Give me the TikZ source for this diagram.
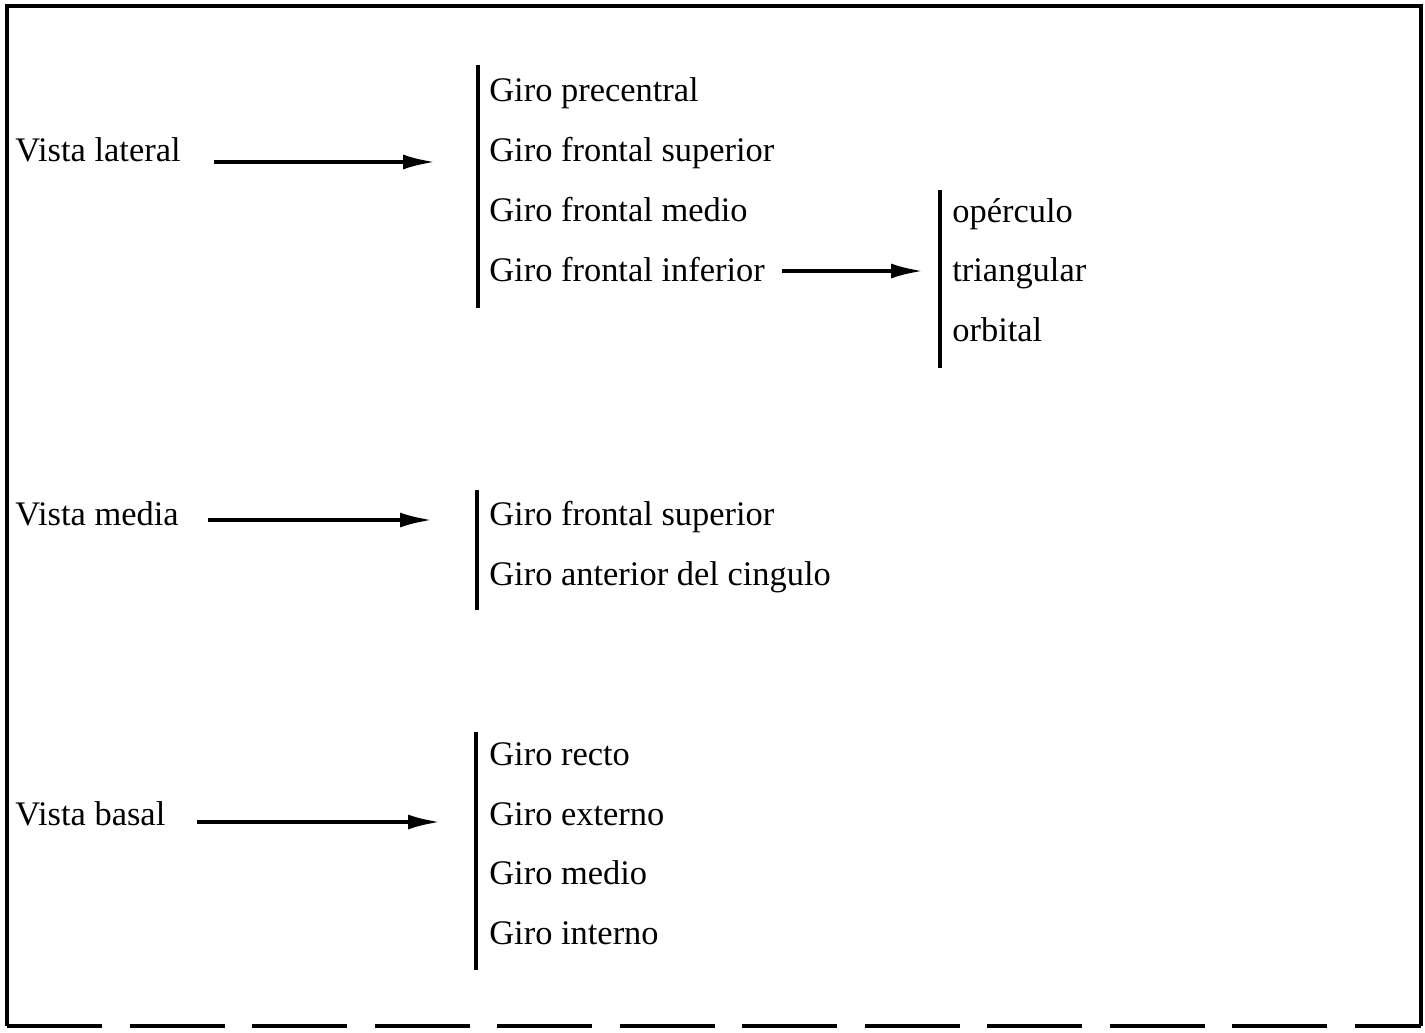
\documentclass[tikz,border=0pt]{standalone}
\usepackage{fontspec}
\setmainfont{Liberation Serif}
\usetikzlibrary{arrows.meta}

\tikzset{
	txt/.style={anchor=base west, inner sep=0pt, font=\fontsize{19.6}{23}\selectfont},
	arr/.style={line width=2pt, -{Latex[length=0.64cm,width=0.3cm]}},
	bar/.style={line width=2pt}
}

\begin{document}
\begin{tikzpicture}
	\useasboundingbox (0,0) rectangle (28.5,-20.64);
	% frame
	\draw[line width=2.2pt] (0.14,-20.52) -- (0.14,-0.12) -- (28.42,-0.12) -- (28.42,-20.52);
	\draw[line width=2.2pt, dash pattern=on 1.9cm off 0.55cm] (0.14,-20.52) -- (28.42,-20.52);

	% vista lateral
	\node[txt] (lat) at (0.3,-3.22) {Vista lateral};
	\node[txt] (pre) at (9.78,-2.02) {Giro precentral};
	\node[txt] (fsup) at (9.78,-3.22) {Giro frontal superior};
	\node[txt] (fmed) at (9.78,-4.42) {Giro frontal medio};
	\node[txt] (finf) at (9.78,-5.62) {Giro frontal inferior};
	\draw[bar] (9.56,-1.3) -- (9.56,-6.16);
	\coordinate (lat-s) at (4.28,-3.24);
	\coordinate (lat-e) at (8.7,-3.24);
	\draw[arr] (lat-s) -- (lat-e);

	\node[txt] (oper) at (19.04,-4.44) {opérculo};
	\node[txt] (tri) at (19.04,-5.62) {triangular};
	\node[txt] (orb) at (19.04,-6.82) {orbital};
	\draw[bar] (18.8,-3.8) -- (18.8,-7.36);
	\coordinate (finf-s) at (15.64,-5.42);
	\coordinate (finf-e) at (18.46,-5.42);
	\draw[arr] (finf-s) -- (finf-e);

	% vista media
	\node[txt] (med) at (0.3,-10.5) {Vista media};
	\node[txt] (msup) at (9.78,-10.5) {Giro frontal superior};
	\node[txt] (cing) at (9.78,-11.7) {Giro anterior del cingulo};
	\draw[bar] (9.54,-9.8) -- (9.54,-12.2);
	\coordinate (med-s) at (4.16,-10.4);
	\coordinate (med-e) at (8.64,-10.4);
	\draw[arr] (med-s) -- (med-e);

	% vista basal
	\node[txt] (bas) at (0.3,-16.5) {Vista basal};
	\node[txt] (rec) at (9.78,-15.3) {Giro recto};
	\node[txt] (ext) at (9.78,-16.5) {Giro externo};
	\node[txt] (bmed) at (9.78,-17.68) {Giro medio};
	\node[txt] (int) at (9.78,-18.88) {Giro interno};
	\draw[bar] (9.52,-14.64) -- (9.52,-19.4);
	\coordinate (bas-s) at (3.94,-16.44);
	\coordinate (bas-e) at (8.8,-16.44);
	\draw[arr] (bas-s) -- (bas-e);
\end{tikzpicture}
\end{document}
